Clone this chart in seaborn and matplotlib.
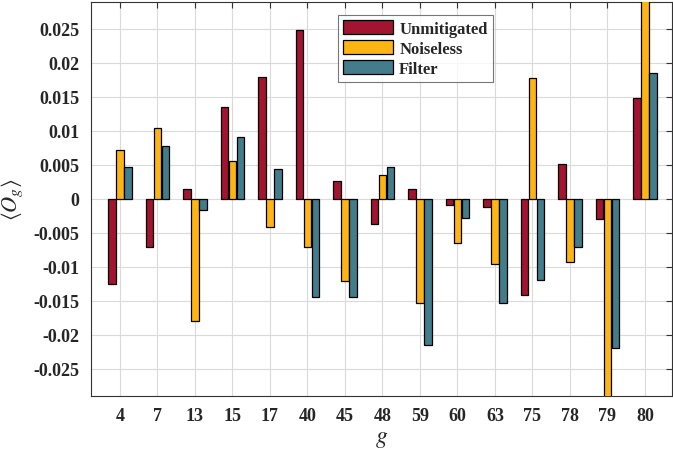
import numpy as np
import pandas as pd
import matplotlib
matplotlib.use("Agg")
import matplotlib.pyplot as plt
import seaborn as sns

categories = ["4", "7", "13", "15", "17", "40", "45", "48", "59", "60", "63", "75", "78", "79", "80"]
unmitigated = [-0.0125, -0.00715, 0.00147, 0.01355, 0.01786, 0.0248, 0.00254, -0.00372, 0.00137,
               -0.00088, -0.00117, -0.01424, 0.0051, -0.00294, 0.01487]
noiseless = [0.00724, 0.01038, -0.0180, 0.00548, -0.00416, -0.00715, -0.01218, 0.00342, -0.0153,
             -0.0065, -0.00964, 0.01772, -0.00935, -0.031, 0.031]
filt = [0.00474, 0.00773, -0.0016, 0.0091, 0.0043, -0.01443, -0.01443, 0.0046, -0.02158,
        -0.00284, -0.0153, -0.01204, -0.00715, -0.02197, 0.01845]
series_names = ["Unmitigated", "Noiseless", "Filter"]
colors = ["#A2142F", "#FDB515", "#437C8A"]

df = pd.DataFrame({
    "g": categories * 3,
    "val": unmitigated + noiseless + filt,
    "series": [s for s in series_names for _ in categories],
})

sns.set_style("white")
plt.rcParams["font.family"] = ["Liberation Serif", "DejaVu Serif"]
plt.rcParams["mathtext.fontset"] = "stix"

fig = plt.figure(figsize=(6.73, 4.60), dpi=100)
ax = fig.add_axes([0.1348, 0.1376, 0.8637, 0.8565])

sns.barplot(data=df, x="g", y="val", hue="series", order=categories, hue_order=series_names,
            palette=colors, saturation=1, width=0.64, gap=0.1, edgecolor="black", linewidth=0.9,
            ax=ax, zorder=3)

ax.set_xlim(-0.78, 14.72)
ax.set_ylim(-0.029, 0.029)
yt = [-0.025, -0.02, -0.015, -0.01, -0.005, 0, 0.005, 0.01, 0.015, 0.02, 0.025]
ax.set_yticks(yt)
ax.set_yticklabels(["-0.025", "-0.02", "-0.015", "-0.01", "-0.005", "0", "0.005", "0.01", "0.015", "0.02", "0.025"])
ax.grid(True, color="#DADADA", linewidth=0.8, zorder=0)
ax.set_axisbelow(True)
ax.tick_params(direction="in", top=True, right=True, length=4, width=0.8, color="#333333",
               labelsize=13, pad=8)
for lab in ax.get_xticklabels() + ax.get_yticklabels():
    lab.set_fontweight("bold")
    lab.set_color("#262626")
for sp in ax.spines.values():
    sp.set_color("#333333")
    sp.set_linewidth(0.8)

ax.set_xlabel(r"$g$", fontsize=17, labelpad=3)
ax.set_ylabel(r"$\langle \boldsymbol{O_g} \rangle$", fontsize=16, labelpad=6)

leg = ax.legend(loc="upper left", bbox_to_anchor=(0.426, 0.966), frameon=True, fancybox=False,
                edgecolor="#555555", fontsize=12, handlelength=3.0, handleheight=0.9,
                handletextpad=0.35, borderpad=0.3, labelspacing=0.2, borderaxespad=0)
leg.get_frame().set_linewidth(0.8)
for t in leg.get_texts():
    t.set_fontweight("bold")

fig.savefig("out.png", dpi=100)
